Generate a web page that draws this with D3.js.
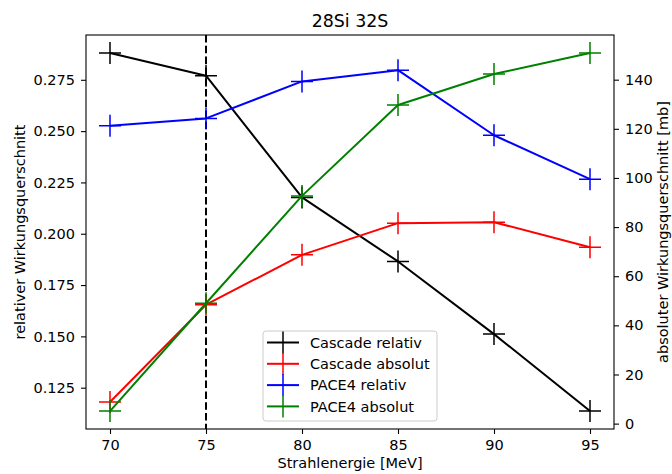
<!DOCTYPE html>
<html>
<head>
<meta charset="utf-8">
<script src="https://cdn.jsdelivr.net/npm/d3@7"></script>
<style>
	body { margin: 0; background: #fff; }
	text { font-family: "DejaVu Sans", sans-serif; }
</style>
</head>
<body>
<script>

var energies = [70, 75, 80, 85, 90, 95];

var cascadeRelativ = [0.2881, 0.2770, 0.2177, 0.1865, 0.1511, 0.1136];
var pace4Relativ = [0.2526, 0.2562, 0.2742, 0.2797, 0.2480, 0.2266];

var cascadeAbsolut = [8.8, 48.4, 68.7, 81.6, 82.0, 71.8];
var pace4Absolut = [5.1, 49.0, 92.7, 129.7, 142.3, 150.9];

var xTicks = [70, 75, 80, 85, 90, 95];
var leftTicks = [0.125, 0.150, 0.175, 0.200, 0.225, 0.250, 0.275];
var rightTicks = [0, 20, 40, 60, 80, 100, 120, 140];

var markedEnergy = 75;

(
	function() {

		var width = 672;
		var height = 474;
		var margin = { top: 35, right: 58, bottom: 45, left: 86 };
		var chartWidth = width - margin.left - margin.right;
		var chartHeight = height - margin.top - margin.bottom;
		var fontSize = 14.5;
		var plusSize = 11;

		var svg = d3.select('body')
			.append('svg')
				.attr('width', width)
				.attr('height', height);

		var chart = svg.append('g')
			.attr('transform', 'translate(' + margin.left + ',' + margin.top + ')');

		// matplotlib style: 5% padding around the data range
		function padded(values) {
			var lo = d3.min(values), hi = d3.max(values);
			var pad = (hi - lo) * 0.05;
			return [lo - pad, hi + pad];
		}

		var x = d3.scaleLinear()
			.domain(padded(energies))
			.range([0, chartWidth]);

		var yLeft = d3.scaleLinear()
			.domain(padded(cascadeRelativ.concat(pace4Relativ)))
			.range([chartHeight, 0]);

		var yRight = d3.scaleLinear()
			.domain(padded(cascadeAbsolut.concat(pace4Absolut)))
			.range([chartHeight, 0]);

		var series = [
			{ name: 'Cascade relativ', values: cascadeRelativ, scale: yLeft, color: '#000000' },
			{ name: 'PACE4 relativ', values: pace4Relativ, scale: yLeft, color: '#0000ff' },
			{ name: 'Cascade absolut', values: cascadeAbsolut, scale: yRight, color: '#ff0000' },
			{ name: 'PACE4 absolut', values: pace4Absolut, scale: yRight, color: '#008000' }
		];
		var legendOrder = [0, 2, 1, 3];

		// dashed marker line
		chart.append('line')
			.attr('x1', x(markedEnergy))
			.attr('x2', x(markedEnergy))
			.attr('y1', 0)
			.attr('y2', chartHeight)
			.attr('stroke', '#000')
			.attr('stroke-width', 2)
			.attr('stroke-dasharray', '7.5,3.3');

		series.forEach(function(s) {

			var line = d3.line()
				.x(function(d, i) { return x(energies[i]); })
				.y(function(d) { return s.scale(d); });

			chart.append('path')
				.datum(s.values)
				.attr('d', line)
				.attr('fill', 'none')
				.attr('stroke', s.color)
				.attr('stroke-width', 2)
				.attr('stroke-linejoin', 'round');

			chart.selectAll(null)
				.data(s.values)
				.enter()
				.append('path')
					.attr('d', function(d, i) {
						var cx = x(energies[i]), cy = s.scale(d);
						return 'M' + (cx - plusSize) + ',' + cy + 'H' + (cx + plusSize) +
							'M' + cx + ',' + (cy - plusSize) + 'V' + (cy + plusSize);
					})
					.attr('stroke', s.color)
					.attr('stroke-width', 1.5)
					.attr('fill', 'none');
		});

		// axes
		var xAxis = chart.append('g')
			.attr('transform', 'translate(0,' + chartHeight + ')')
			.call(d3.axisBottom(x).tickValues(xTicks).tickSize(5).tickPadding(6).tickFormat(d3.format('d')));

		var leftAxis = chart.append('g')
			.call(d3.axisLeft(yLeft).tickValues(leftTicks).tickSize(5).tickPadding(6).tickFormat(d3.format('.3f')));

		var rightAxis = chart.append('g')
			.attr('transform', 'translate(' + chartWidth + ',0)')
			.call(d3.axisRight(yRight).tickValues(rightTicks).tickSize(5).tickPadding(6).tickFormat(d3.format('d')));

		[xAxis, leftAxis, rightAxis].forEach(function(axis) {
			axis.select('.domain').remove();
			axis.selectAll('.tick line').attr('stroke', '#000').attr('stroke-width', 1.1);
			axis.selectAll('.tick text')
				.attr('fill', '#000')
				.style('font-family', '"DejaVu Sans", sans-serif')
				.style('font-size', fontSize + 'px');
		});

		// frame
		chart.append('rect')
			.attr('x', 0)
			.attr('y', 0)
			.attr('width', chartWidth)
			.attr('height', chartHeight)
			.attr('fill', 'none')
			.attr('stroke', '#000')
			.attr('stroke-width', 1.1);

		// labels
		svg.append('text')
			.attr('x', margin.left + chartWidth / 2)
			.attr('y', 27)
			.attr('text-anchor', 'middle')
			.style('font-size', '17.4px')
			.text('28Si 32S');

		svg.append('text')
			.attr('x', margin.left + chartWidth / 2)
			.attr('y', 468)
			.attr('text-anchor', 'middle')
			.style('font-size', fontSize + 'px')
			.text('Strahlenergie [MeV]');

		svg.append('text')
			.attr('transform', 'translate(25,' + (margin.top + chartHeight / 2) + ') rotate(-90)')
			.attr('text-anchor', 'middle')
			.style('font-size', fontSize + 'px')
			.text('relativer Wirkungsquerschnitt');

		svg.append('text')
			.attr('transform', 'translate(668,' + (margin.top + chartHeight / 2) + ') rotate(-90)')
			.attr('text-anchor', 'middle')
			.style('font-size', fontSize + 'px')
			.text('absoluter Wirkungsquerschnitt [mb]');

		// legend
		var legend = svg.append('g')
			.attr('transform', 'translate(263,331)');

		legend.append('rect')
			.attr('width', 174)
			.attr('height', 90)
			.attr('rx', 3)
			.attr('fill', '#fff')
			.attr('fill-opacity', 0.8)
			.attr('stroke', '#cccccc')
			.attr('stroke-width', 1);

		legendOrder.forEach(function(idx, row) {
			var s = series[idx];
			var ry = 11.5 + row * 21.3;

			legend.append('line')
				.attr('x1', 4)
				.attr('x2', 36)
				.attr('y1', ry)
				.attr('y2', ry)
				.attr('stroke', s.color)
				.attr('stroke-width', 2);

			legend.append('line')
				.attr('x1', 20)
				.attr('x2', 20)
				.attr('y1', ry - plusSize)
				.attr('y2', ry + plusSize)
				.attr('stroke', s.color)
				.attr('stroke-width', 1.5);

			legend.append('text')
				.attr('x', 47)
				.attr('y', ry + 5.2)
				.style('font-size', fontSize + 'px')
				.text(s.name);
		});

	}
)();

</script>
</body>
</html>
